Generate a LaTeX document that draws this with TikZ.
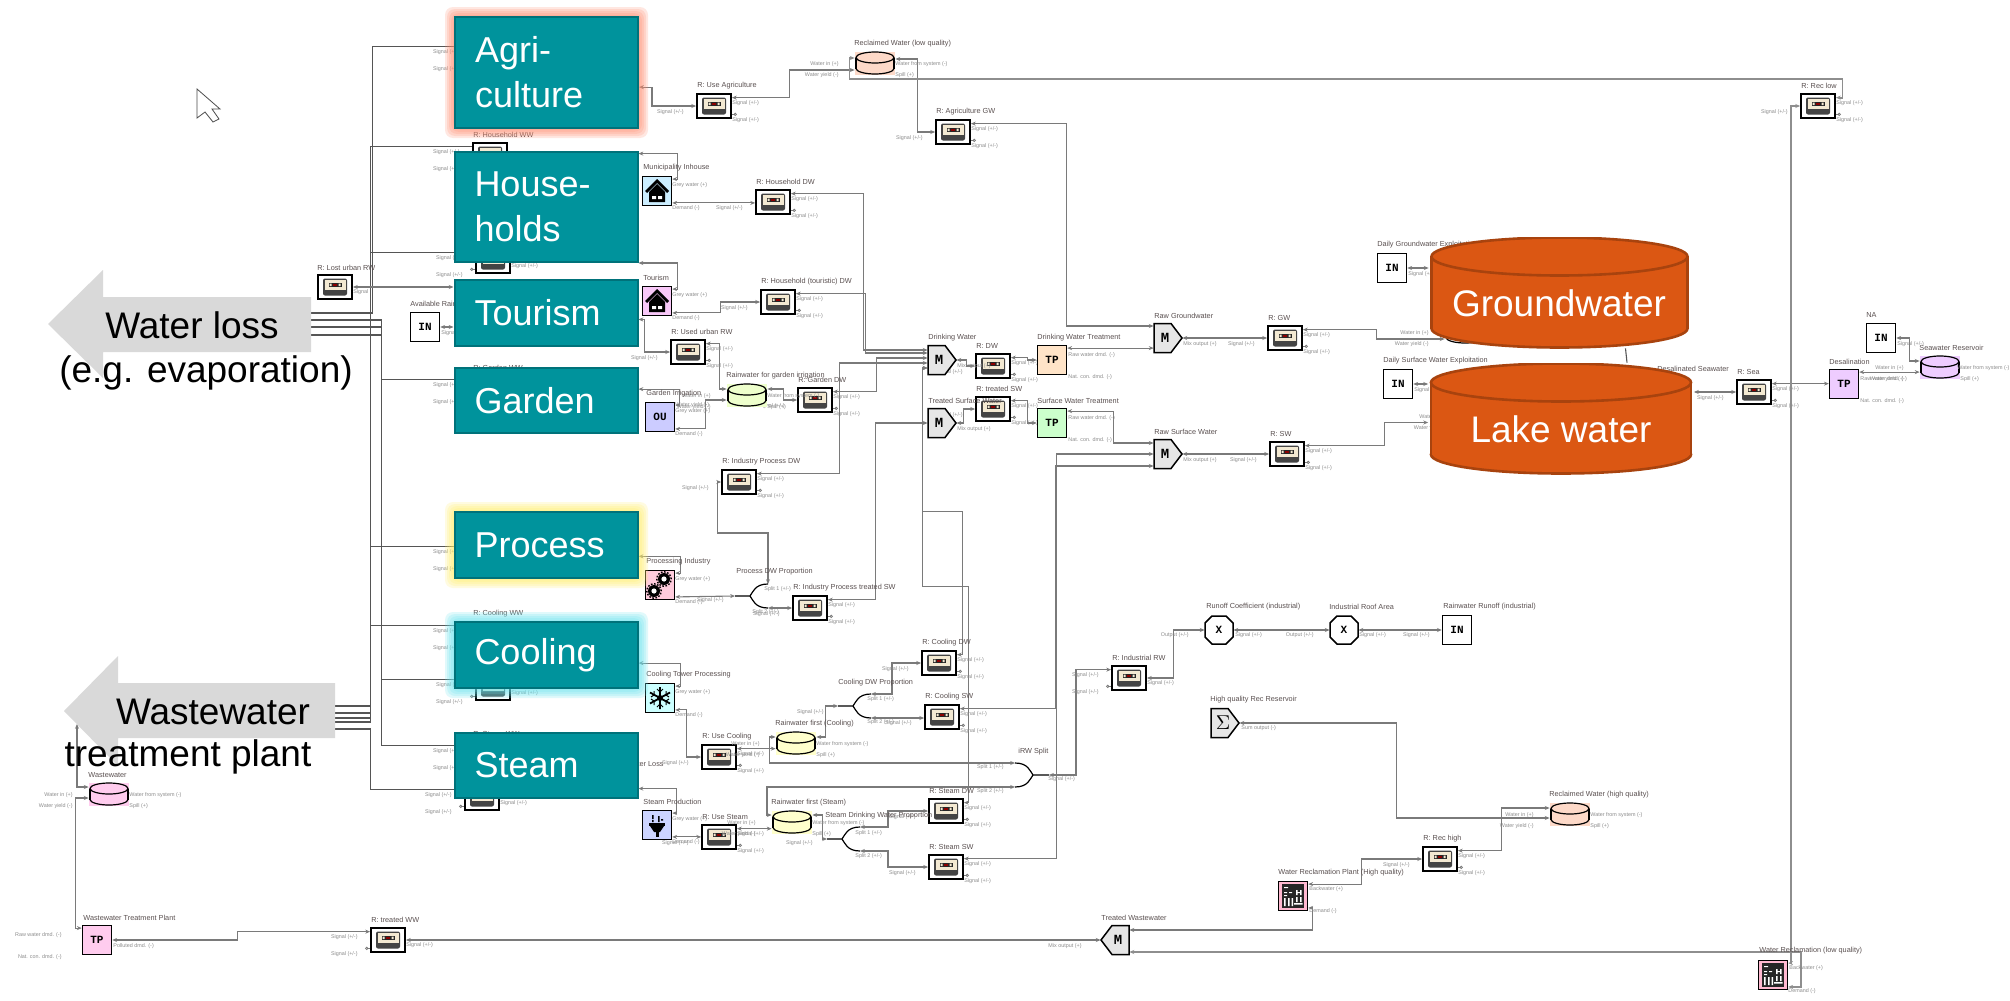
\documentclass[tikz,border=0pt]{standalone}
\usepackage{fontspec}
\setmainfont{Liberation Sans}
\newfontfamily\monob{Liberation Mono}[BoldFont={Liberation Mono Bold}]
\usetikzlibrary{arrows.meta,calc}
\definecolor{wgray}{HTML}{7A7A7A}
\definecolor{wdark}{HTML}{555555}
\definecolor{tealc}{HTML}{00939C}
\definecolor{teald}{HTML}{00727A}
\definecolor{orgc}{HTML}{DB5713}
\definecolor{orgd}{HTML}{A8430E}
\definecolor{arrg}{HTML}{D9D9D9}
\definecolor{ttlc}{HTML}{5A5050}
\definecolor{sgc}{HTML}{8C8C8C}
\definecolor{beige}{HTML}{F3E9D2}
\definecolor{recd}{HTML}{444444}
\definecolor{mixg}{HTML}{E6E6E6}
\definecolor{cpeach}{HTML}{FDD9C8}
\definecolor{cgreen}{HTML}{EEFFCC}
\definecolor{cyell}{HTML}{FFFFCC}
\definecolor{cpink}{HTML}{FFCCEE}
\definecolor{clil}{HTML}{EECCFF}
\definecolor{iblue}{HTML}{CCEEFF}
\definecolor{ipink}{HTML}{F8C8F8}
\definecolor{iou}{HTML}{CCCCFF}
\definecolor{igear}{HTML}{FFCCDD}
\definecolor{iice}{HTML}{CCFFFF}
\definecolor{iplug}{HTML}{CCD4FF}
\definecolor{tporg}{HTML}{FFE4C8}
\definecolor{tpgrn}{HTML}{CCFFCC}
\definecolor{irec}{HTML}{FFB8D0}
\definecolor{glowa}{HTML}{FF8A6C}
\definecolor{glowp}{HTML}{FFEE66}
\definecolor{glowc}{HTML}{66E4EE}
\pgfdeclarelayer{wires}
\pgfsetlayers{wires,main}
\tikzset{
  wire/.style={draw=wgray,line width=.55pt,arrows={Stealth[length=2.4pt,width=2pt]-Stealth[length=2.4pt,width=2pt]}},
  wiret/.style={wire,line width=.85pt,draw=wgray!85},
  bus/.style={draw=wdark,line width=.55pt},
  stub/.style={draw=wgray,line width=.4pt,-{Circle[open,length=1.6pt,width=1.6pt]}},
  splt/.style={draw=black,line width=.6pt},
  ttl/.style={anchor=west,inner sep=0,text=ttlc,font=\fontsize{3.65}{4}\selectfont},
  sg/.style={anchor=west,inner sep=0,text=sgc,font=\fontsize{2.7}{3}\selectfont},
  sgr/.style={sg,anchor=east},
  tbox/.style={rectangle,fill=tealc,draw=teald,line width=1pt,inner xsep=10pt,inner ysep=0,text width=71.5pt,align=left,text=white,font=\fontsize{18}{22.5}\selectfont},
  bigt/.style={inner sep=0,text=white,font=\fontsize{18.5}{22}\selectfont},
  arrt/.style={inner sep=0,text=black,font=\fontsize{18.5}{22}\selectfont},
  blk/.style={rectangle,draw=black,line width=.75pt,minimum width=14.5pt,minimum height=14.5pt,inner sep=0,font=\monob\bfseries\fontsize{5.5}{6}\selectfont},
  recn/.style={rectangle,draw=black,line width=.9pt,fill=white,minimum width=17pt,minimum height=12pt,inner sep=0,
    path picture={\begin{scope}[shift={(path picture bounding box.center)}]
      \fill[recd,rounded corners=1pt] (-12,-8.5) rectangle (12,8.5);
      \fill[beige] (-10.5,-7) rectangle (10.5,2.5);
      \fill[black!85] (-6.5,-4.5) rectangle (6.5,0);
      \fill[red!55!black] (-2,-3.5) rectangle (2,-1);
      \fill[beige] (-5.5,-3.5) rectangle (-3.5,-1) (3.5,-3.5) rectangle (5.5,-1);
    \end{scope}}},
  cylpic/.style n args={5}{path picture={\begin{scope}[shift={(path picture bounding box.center)}]
      \path[fill=#4,draw=#5,line width=.6pt] (0,#2-#3) ellipse [x radius=#1*0.5pt,y radius=#3*0.5pt];
      \fill[#4] (-#1,-#2+#3) rectangle (#1,#2-#3);
      \draw[#5,line width=.6pt] (-#1,-#2+#3) -- (-#1,#2-#3) (#1,-#2+#3) -- (#1,#2-#3);
      \path[fill=#4,draw=#5,line width=.6pt] (0,-#2+#3) ellipse [x radius=#1*0.5pt,y radius=#3*0.5pt];
    \end{scope}}},
  scyl/.style={rectangle,inner sep=0,minimum width=20pt,minimum height=11.5pt,fill=#1,cylpic={19}{11}{5.5}{#1}{black}},
  bcylg/.style={rectangle,inner sep=0,minimum width=130.5pt,minimum height=55.5pt,
    path picture={\begin{scope}[shift={(path picture bounding box.center)}]
      \path[fill=orgc,draw=orgd,line width=1.3pt] (0,36) ellipse [x radius=64pt,y radius=9.5pt];
      \fill[orgc] (-128,-36) rectangle (128,36);
      \draw[orgd,line width=1.3pt] (-128,-36) -- (-128,36) (128,-36) -- (128,36);
      \path[fill=orgc,draw=orgd,line width=1.3pt] (0,-36) ellipse [x radius=64pt,y radius=9.5pt];
    \end{scope}}},
  bcyll/.style={rectangle,inner sep=0,minimum width=132.5pt,minimum height=55.5pt,
    path picture={\begin{scope}[shift={(path picture bounding box.center)}]
      \path[fill=orgc,draw=orgd,line width=1.3pt] (0,36) ellipse [x radius=65pt,y radius=9.5pt];
      \fill[orgc] (-130,-36) rectangle (130,36);
      \draw[orgd,line width=1.3pt] (-130,-36) -- (-130,36) (130,-36) -- (130,36);
      \path[fill=orgc,draw=orgd,line width=1.3pt] (0,-36) ellipse [x radius=65pt,y radius=9.5pt];
    \end{scope}}},
  mixn/.style={rectangle,inner sep=0,minimum width=14pt,minimum height=14.5pt,font=\monob\bfseries\fontsize{7}{8}\selectfont},
  outl/.style={fill=mixg,draw=black,line width=.75pt,line join=miter},
  octn/.style={rectangle,inner sep=0,minimum width=14pt,minimum height=14.5pt,font=\monob\bfseries\fontsize{5.5}{6}\selectfont},
  houseic/.style={blk,path picture={\begin{scope}[shift={(path picture bounding box.center)}]
      \fill[black] (0,-12) -- (12,0) -- (10,2) -- (0,-8) -- (-10,2) -- (-12,0) -- cycle;
      \fill[black] (-8,1) -- (0,-7) -- (8,1) -- (8,11) -- (-8,11) -- cycle;
      \fill[white] (-5,5) rectangle (-1,8) (1,5) rectangle (5,8);
    \end{scope}}},
  gearic/.style={blk,path picture={\begin{scope}[shift={(path picture bounding box.center)}]
      \fill[black] (4,-6) circle[radius=3pt] (-6,6) circle[radius=3pt];
      \draw[black,line width=.7pt,dash pattern=on .8pt off .8pt] (4,-6) circle[radius=3.6pt] (-6,6) circle[radius=3.6pt];
      \fill[white] (4,-6) circle[radius=1.3pt] (-6,6) circle[radius=1.3pt];
    \end{scope}}},
  snowic/.style={blk,path picture={\begin{scope}[shift={(path picture bounding box.center)}]
      \draw[black,line width=.9pt] (0,-11) -- (0,11) (-10,-5.5) -- (10,5.5) (-10,5.5) -- (10,-5.5);
      \draw[black,line width=.5pt] (-3,-9) -- (0,-6) -- (3,-9) (-3,9) -- (0,6) -- (3,9) (-9,-1) -- (-6,-3) -- (-6,-7) (9,1) -- (6,3) -- (6,7) (-9,1) -- (-6,3) -- (-6,7) (9,-1) -- (6,-3) -- (6,-7);
      \fill[black] (0,0) circle[radius=1.5pt];
    \end{scope}}},
  plugic/.style={blk,path picture={\begin{scope}[shift={(path picture bounding box.center)}]
      \fill[black] (-8,-2) rectangle (8,1);
      \fill[black] (-7,1) -- (7,1) -- (3,7) -- (-3,7) -- cycle;
      \fill[black] (-1.5,7) rectangle (1.5,12);
      \fill[black] (-5,-10) rectangle (-3.5,-6) (-5,-5) rectangle (-3.5,-3) (1,-9) rectangle (2.5,-3) (4,-6) rectangle (6,-4.5);
    \end{scope}}},
  recic/.style={blk,fill=irec,path picture={\begin{scope}[shift={(path picture bounding box.center)}]
      \fill[black!85] (-11,-12) rectangle (11,12);
      \fill[white] (-9,-9) rectangle (-5,-8) (-9,-4) rectangle (-6,-3) (-4,-4) rectangle (-1,-3) (-9,-1) rectangle (-6,0) (-9,2) rectangle (-7.5,10) (-5,2) rectangle (-3.5,10) (-1.5,2) rectangle (0,10) (3,-6) rectangle (4.5,-1) (7,-6) rectangle (8.5,-1) (3,-4) rectangle (8.5,-3) (3,1) rectangle (4.5,6) (7,1) rectangle (8.5,6) (1,7) rectangle (9.5,8.5);
    \end{scope}}}
}
\newcount\labn
\newcommand\Lab[4][sg]{\global\advance\labn by 1 \node[#1] (lab\the\labn) at (#2,#3) {#4};}
\newcommand\sgtxt{Signal (+/-)}
\newcommand\Rec[4]{\node[recn] (#1) at (#2,#3) {};
  \Lab[ttl]{#2-17}{#3-20}{#4}
  \Lab{#2+18}{#3-3}{\sgtxt}
  \Lab{#2+18}{#3+14}{\sgtxt}
  \Lab[sgr]{#2-30}{#3+6}{\sgtxt}
  \draw[stub] (#1.-25) -- ++(5,0);}
\newcommand\RecH[3]{\node[recn] (#1) at (#2,#3) {};
  \Lab[sgr]{#2-30}{#3-3}{\sgtxt}
  \Lab[sgr]{#2-30}{#3+14}{\sgtxt}
  \Lab{#2+18}{#3+5}{\sgtxt}
  \draw[stub] (#1.205) -- ++(-5,0);}
\newcommand\RecF[4]{\RecH{#1}{#2}{#3}
  \Lab[ttl]{#2-17}{#3-20}{#4}}
\newcommand\CylN[4]{\node[scyl=#4] (#1) at (#2,#3) {};
  \Lab[sgr]{#2-36}{#3+1}{Water in (+)}
  \Lab[sgr]{#2-36}{#3+12}{Water yield (-)}}
\newcommand\Cyl[5]{\CylN{#1}{#2}{#3}{#4}
  \Lab[ttl]{#2-21}{#3-19}{#5}
  \Lab{#2+20}{#3+1}{Water from system (-)}
  \Lab{#2+20}{#3+12}{Spill (+)}}
\newcommand\Tp[5]{\node[blk,fill=#4] (#1) at (#2,#3) {TP};
  \Lab[ttl]{#2-15}{#3-22}{#5}
  \Lab{#2+16}{#3-5}{Raw water dmd. (-)}
  \Lab{#2+16}{#3+17}{Nat. con. dmd. (-)}}
\newcommand\Inp[4]{\node[blk,fill=white] (#1) at (#2,#3) {IN};
  \Lab[ttl]{#2-15}{#3-23}{#4}
  \Lab{#2+16}{#3+6}{\sgtxt}}
\newcommand\Ico[6]{\node[#4] (#1) at (#2,#3) {#6};
  \Lab[ttl]{#2-14}{#3-23}{#5}
  \Lab{#2+15}{#3-6}{Grey water (+)}
  \Lab{#2+15}{#3+17}{Demand (-)}}
\newcommand\PentR[2]{\path[outl,shift={(#1,#2)}] (-14,-14.5) -- (3,-14.5) -- (14,0) -- (3,14.5) -- (-14,14.5) -- cycle;}
\newcommand\PentL[2]{\path[outl,shift={(#1,#2)}] (14,-14.5) -- (-3,-14.5) -- (-14,0) -- (-3,14.5) -- (14,14.5) -- cycle;}
\newcommand\Octo[2]{\path[outl,fill=white,shift={(#1,#2)}] (-7,-14) -- (7,-14) -- (14,-7) -- (14,7) -- (7,14) -- (-7,14) -- (-14,7) -- (-14,-7) -- cycle;}
\newcommand\Mix[4]{\PentR{#2}{#3}
  \node[mixn] (#1) at (#2,#3) {M\kern3pt};
  \Lab[ttl]{#2-14}{#3-22}{#4}
  \Lab{#2+15}{#3+6}{Mix output (+)}}
\newcommand\Split[3]{\coordinate (#1) at (#2-15,#3);
  \coordinate (#1J) at (#2,#3);
  \coordinate (#1U) at (#2+18,#3-12);
  \coordinate (#1L) at (#2+18,#3+12);
  \draw[splt] (#1) -- (#1J) .. controls (#2+3,#3-4) and (#2+5,#3-12) .. (#1U);
  \draw[splt] (#1J) .. controls (#2+3,#3+4) and (#2+5,#3+12) .. (#1L);}
\newcommand\SplitF[3]{\coordinate (#1) at (#2+16,#3);
  \coordinate (#1J) at (#2,#3);
  \coordinate (#1U) at (#2-18,#3-12);
  \coordinate (#1L) at (#2-18,#3+12);
  \draw[splt] (#1) -- (#1J) .. controls (#2-3,#3-4) and (#2-5,#3-12) .. (#1U);
  \draw[splt] (#1J) .. controls (#2-3,#3+4) and (#2-5,#3+12) .. (#1L);}
\newcommand\Glow[5]{\foreach \r in {2,4,6,8,10}{\fill[#1,opacity=.2,rounded corners=4pt] (#2-\r,#3-\r) rectangle (#4+\r,#5+\r);}}
\begin{document}
\begin{tikzpicture}[x=0.5pt,y=-0.5pt]
\useasboundingbox (0,0) rectangle (2010,1001);
\begin{pgfonlayer}{wires}
\fill[white] (0,0) rectangle (2010,1001);
\end{pgfonlayer}
% cursor
\draw[fill=white,draw=black!70,line width=.4pt] (197,89) -- (197,118) -- (205,112) -- (213,122) -- (219,119) -- (212,109) -- (220,109) -- cycle;

% recorders
\Rec{ruseag}{714}{106}{R: Use Agriculture}
\Rec{rag}{953}{132}{R: Agriculture GW}
\Rec{rhdw}{773}{202}{R: Household DW}
\Rec{rhtdw}{778}{302}{R: Household (touristic) DW}
\Rec{urw}{688}{352}{R: Used urban RW}
\Rec{rgdw}{815}{400}{R: Garden DW}
\Rec{rid}{739}{482}{R: Industry Process DW}
\Rec{rips}{810}{608}{R: Industry Process treated SW}
\Rec{rdw}{993}{366}{R: DW}
\Rec{rts}{993}{409}{R: treated SW}
\Rec{rgw}{1285}{338}{R: GW}
\Rec{rsw}{1287}{454}{R: SW}
\Rec{rrl}{1818}{106}{R: Rec low}
\Rec{rsea}{1754}{392}{R: Sea}
\Rec{rcdw}{939}{663}{R: Cooling DW}
\Rec{rcsw}{942}{717}{R: Cooling SW}
\Rec{ruc}{719}{757}{R: Use Cooling}
\Rec{rus}{719}{837}{R: Use Steam}
\Rec{rsdw}{946}{811}{R: Steam DW}
\Rec{rssw}{946}{867}{R: Steam SW}
\Rec{rrh}{1440}{859}{R: Rec high}
\RecF{rir}{1129}{678}{R: Industrial RW}
\RecF{rtrw}{388}{940}{R: treated WW}
% recorders mostly behind the teal boxes
\RecH{ragww}{490}{55}
\RecF{rhhww}{490}{155}{R: Household WW}
\RecH{rtww}{493}{261}
\RecF{rgww}{490}{388}{R: Garden WW}
\RecH{rpww}{490}{555}
\RecF{rcww}{490}{634}{R: Cooling WW}
\RecH{rclww}{493}{688}
\RecF{rsww}{490}{754}{R: Steam WW}
\RecH{rslw}{482}{798}
\node[recn] (rlost) at (335,287) {};
\Lab[ttl]{317}{268}{R: Lost urban RW}
\Lab{353}{292}{Signal}
% reservoirs
\Cyl{rlq}{875}{63}{cpeach}{Reclaimed Water (low quality)}
\Cyl{rwg}{747}{395}{cgreen}{Rainwater for garden irrigation}
\Cyl{rfc}{796}{743}{cyell}{Rainwater first (Cooling)}
\Cyl{rfs}{792}{822}{cyell}{Rainwater first (Steam)}
\Cyl{rhq}{1570}{814}{cpeach}{Reclaimed Water (high quality)}
\CylN{swr}{1940}{367}{clil}
\Lab[ttl]{1919}{348}{Seawater Reservoir}
\Lab{1957}{368}{Water from system (-)}
\Lab{1960}{379}{Spill (+)}
\Cyl{wwc}{109}{794}{cpink}{Wastewater}
\CylN{hgw}{1465}{332}{white}
\CylN{hlk}{1484}{416}{white}
% treatment plants
\Tp{dwt}{1052}{360}{tporg}{Drinking Water Treatment}
\Tp{swt}{1052}{423}{tpgrn}{Surface Water Treatment}
\Tp{des}{1844}{384}{clil}{Desalination}
\node[blk,fill=cpink] (wtp) at (97,940) {TP};
\Lab[ttl]{83}{918}{Wastewater Treatment Plant}
\Lab[sgr]{62}{935}{Raw water dmd. (-)}
\Lab[sgr]{62}{957}{Nat. con. dmd. (-)}
\Lab{113}{946}{Polluted dmd. (-)}
% inputs
\Inp{avail}{425}{327}{Available Rainwater}
\Inp{dgw}{1392}{268}{Daily Groundwater Exploitation}
\Inp{dsw}{1398}{384}{Daily Surface Water Exploitation}
\Inp{na}{1881}{338}{NA}
\node[blk,fill=white] (rro) at (1457,630) {IN};
\Lab[ttl]{1443}{607}{Rainwater Runoff (industrial)}
\Lab[sgr]{1430}{635}{\sgtxt}
% consumers
\Ico{muni}{657}{191}{houseic,fill=iblue}{Municipality Inhouse}{}
\Ico{tour}{657}{301}{houseic,fill=ipink}{Tourism}{}
\Ico{gard}{660}{417}{blk,fill=iou}{Garden Irrigation}{OU}
\Ico{proc}{660}{585}{gearic,fill=igear}{Processing Industry}{}
\Ico{cooli}{660}{698}{snowic,fill=iice}{Cooling Tower Processing}{}
\Ico{stm}{657}{825}{plugic,fill=iplug}{Steam Production}{}
\Lab{675}{405}{Water yield (-)}
% mixers
\Mix{dw}{942}{360}{Drinking Water}
\Mix{tsm}{942}{423}{Treated Surface Water}
\Mix{rgm}{1168}{338}{Raw Groundwater}
\Mix{rsm}{1168}{454}{Raw Surface Water}
\PentL{1115}{940}
\node[mixn] (tww) at (1115,940) {\kern3pt M};
\Lab[ttl]{1101}{918}{Treated Wastewater}
\Lab[sgr]{1082}{946}{Mix output (+)}
\PentR{1225}{723}
\node[mixn,font=\fontsize{10}{11}\selectfont] (hq) at (1225,723) {$\Sigma$\kern2pt};
\Lab[ttl]{1210}{700}{High quality Rec Reservoir}
\Lab{1241}{728}{Sum output (-)}
% multipliers
\Octo{1219}{630}
\node[octn] (oc1) at (1219,630) {X};
\Lab[ttl]{1206}{607}{Runoff Coefficient (industrial)}
\Lab[sgr]{1189}{635}{Output (+/-)}
\Lab{1235}{635}{\sgtxt}
\Octo{1344}{630}
\node[octn] (oc2) at (1344,630) {X};
\Lab[ttl]{1329}{607}{Industrial Roof Area}
\Lab[sgr]{1314}{635}{Output (+/-)}
\Lab{1359}{635}{\sgtxt}
% reclamation plants
\node[recic] (wrh) at (1293,896) {};
\Lab[ttl]{1278}{873}{Water Reclamation Plant (High quality)}
\Lab{1309}{889}{Backwater (+)}
\Lab{1309}{911}{Demand (-)}
\node[recic] (wrl) at (1773,975) {};
\Lab[ttl]{1759}{951}{Water Reclamation (low quality)}
\Lab{1789}{968}{Backwater (+)}
\Lab{1788}{991}{Demand (-)}
% splitters
\Split{pdw}{750}{596}
\Lab[ttl]{736}{572}{Process DW Proportion}
\Lab{764}{589}{Split 1 (+/-)}
\Lab{752}{612}{Split 2 (+/-)}
\Lab[sgr]{724}{600}{\sgtxt}
\Split{cdp}{853}{706}
\Lab[ttl]{838}{683}{Cooling DW Proportion}
\Lab{867}{699}{Split 1 (+/-)}
\Lab{867}{722}{Split 2 (+/-)}
\Lab[sgr]{824}{712}{\sgtxt}
\Split{sdp}{842}{839}
\Lab[ttl]{825}{816}{Steam Drinking Water Proportion}
\Lab{855}{833}{Split 1 (+/-)}
\Lab{855}{856}{Split 2 (+/-)}
\Lab[sgr]{813}{843}{\sgtxt}
\SplitF{irw}{1033}{775}
\Lab[ttl]{1018}{752}{iRW Split}
\Lab[sgr]{1004}{767}{Split 1 (+/-)}
\Lab[sgr]{1004}{791}{Split 2 (+/-)}
\Lab{1048}{779}{\sgtxt}
\Lab[ttl]{1657}{369}{Desalinated Seawater}
\node[ttl,anchor=east] (lab0) at (664,765) {Cooling Water Loss};

% glows and teal boxes
\Glow{glowa}{455}{17}{638}{128}
\Glow{glowp}{455}{512}{638}{578}
\Glow{glowc}{455}{622}{638}{688}
\node[tbox,minimum height=55.5pt] (agri) at (546.5,72.5) {Agri-\\culture};
\node[tbox,minimum height=55pt] (house) at (546,207) {House-\\holds};
\node[tbox,minimum height=33pt] (tourism) at (546,313) {Tourism};
\node[tbox,minimum height=32.5pt] (garden) at (546,400.5) {Garden};
\node[tbox,minimum height=33pt] (process) at (546,545) {Process};
\node[tbox,minimum height=33pt] (cooling) at (546,655) {Cooling};
\node[tbox,minimum height=32.5pt] (steam) at (546,765.5) {Steam};

% big reservoirs
\node[bcylg] (gw) at (1559.5,292.5) {};
\node[bcyll] (lake) at (1561,418.5) {};
\node[bigt] (gwt) at (1559,303) {Groundwater};
\node[bigt] (lkt) at (1561,429) {Lake water};

% big grey arrows
\path[fill=arrg] (48,324) -- (103,270) -- (103,297) -- (311,297) -- (311,352) -- (103,352) -- (103,378) -- cycle;
\path[fill=arrg] (64,711) -- (118,656) -- (118,683) -- (335,683) -- (335,738) -- (118,738) -- (118,766) -- cycle;
\node[arrt] (wl) at (192,325) {Water loss};
\node[arrt] (wle) at (206,373) {(e.g. evaporation)};
\node[arrt] (wt) at (213,712) {Wastewater};
\node[arrt] (wtp2) at (188,757) {treatment plant};
\coordinate (wl1) at (311,313);
\coordinate (wl2) at (311,320);
\coordinate (wl3) at (311,327);
\coordinate (wl4) at (311,335);
\coordinate (ww1) at (335,706);
\coordinate (ww2) at (335,713);
\coordinate (ww3) at (335,718);
\coordinate (ww4) at (335,722);
\coordinate (ww5) at (335,729);
\coordinate (wwa) at (77,724);

\begin{pgfonlayer}{wires}
% buses to the grey arrows
\draw[bus] (ragww.155) -- ++(-100,0) |- (wl1);
\draw[bus] (rgww.155) -- ++(-91,0) |- (wl2);
\draw[bus] (rsww.155) -- ++(-91,0) |- (wl3);
\draw[bus] (rclww.155) -- ++(-94,0) |- (wl4);
\draw[bus] (rhhww.155) -- ++(-102,0) |- (ww1);
\draw[bus] (rtww.155) -- ++(-105,0) |- (ww2);
\draw[bus] (rpww.155) -- ++(-102,0) |- (ww3);
\draw[bus] (rcww.155) -- ++(-102,0) |- (ww4);
\draw[bus] (rslw.155) -- ++(-94,0) |- (ww5);
% teal boxes to blocks
\draw[wire] (agri.-9) -- ++(13,0) |- (ruseag.west);
\draw[wire] (house.30) -- ++(39,0) |- (muni.38);
\draw[wire] (house.south east) -- ++(39,0) |- (tour.38);
\draw[wire] (tourism.-4) -- ++(6,0) |- (urw.west);
\draw[wire] (garden.7) -- ++(41,0) |- (gard.38);
\draw[wire] (process.-7) -- ++(42,0) |- (proc.38);
\draw[wire] (cooling.-5) -- ++(42,0) |- (cooli.38);
\draw[wire] (steam.-14) -- ++(38,0) |- (stm.38);
\draw[wire] (tourism.west |- rlost.east) -- (rlost.east);
\draw[wire] (avail.east) -- (avail.east -| tourism.west);
% demands
\draw[wire] (muni.-38) -- (muni.-38 -| rhdw.west);
\draw[wire] (tour.-38) -- ++(48,0) |- (rhtdw.west);
\draw[wire] (urw.25) -- ++(14,0) |- ([yshift=3pt]rwg.west);
\draw[wire] (gard.-38) -- ++(30,0) |- ([yshift=-2.5pt]rwg.west);
\draw[wire] ([yshift=3pt]rwg.east) -- ++(16,0) |- (rgdw.west);
\draw[wire] (rid.west) -- ++(-4,0) -- ++(0,51) -| (pdwU);
\draw[wire] (proc.-38) -- (pdw);
\draw[wire] (pdwL) -- (pdwL -| rips.west);
% into drinking water mixer
\draw[wire] (rhdw.25) -- ++(72.5,0) |- ([yshift=5pt]dw.west);
\draw[wire] (rhtdw.25) -- ++(69.5,0) |- ([yshift=3.5pt]dw.west);
\draw[wire] (rgdw.25) -- ++(44,0) |- ([yshift=1pt]dw.west);
\draw[wire] (rid.25) -- ++(83,0) |- ([yshift=-1.5pt]dw.west);
\draw[wire] (rcdw.25) -- ++(5.6,0) -- ++(0,-143) -- ++(-39.6,0) |- ([yshift=-4pt]dw.west);
\draw[wire] (rsdw.25) -- ++(5,0) -- ++(0,-216) -- ++(-46,0) |- ([yshift=-4pt]dw.west);
\draw[wire] (dw.east) -- ++(10,0) |- (rdw.west);
\draw[wire] (rdw.25) -- ++(17,0) |- (dwt.west);
\draw[wire] (dwt.38) -- (dwt.38 -| rgm.west);
\draw[wire] (rag.25) -- ++(95.5,0) |- ([yshift=6pt]rgm.west);
\draw[wire] (rgm.east) -- (rgw.west);
\draw[wire] (rgw.25) -- ++(74,0) |- ([yshift=-3.5pt]hgw.west);
% surface water
\draw[wire] (rips.25) -- ++(48,0) |- (tsm.west);
\draw[wire] (tsm.east) -- ++(7,0) |- (rts.west);
\draw[wire] (rts.25) -- ++(17,0) |- (swt.west);
\draw[wire] (swt.38) -- ++(46,0) |- ([yshift=5.5pt]rsm.west);
\draw[wire] (rcsw.25) -- ++(96,0) |- ([yshift=-6pt]rsm.west);
\draw[wire] (rssw.25) -- ++(93,0) |- (rsm.west);
\draw[wire] (rsm.east) -- (rsw.west);
\draw[wire] (rsw.25) -- ++(80,0) |- ([yshift=-2pt]lake.west);
\draw[wire] (dgw.east) -- (dgw.east -| gw.west);
\draw[wire] (dsw.east) -- (dsw.east -| lake.west);
\draw[bus] ([xshift=33pt]gw.south) -- ([xshift=33pt]lake.north);
% sea
\draw[wire] (rsea.west -| lake.east) -- (rsea.west);
\draw[wire] (rsea.25) -- (rsea.25 -| des.west);
\draw[wire] (des.38) -- (des.38 -| swr.west);
\draw[wire] ([yshift=3pt]swr.west) -- ++(-10,0) |- (na.east);
% reclaimed low
\draw[wire] (ruseag.25) -- ++(58,0) |- ([yshift=-3.5pt]rlq.west);
\draw[wire] (rag.west) -- ++(-18,0) |- ([yshift=2pt]rlq.east);
\draw[wiret] ([yshift=2.5pt]rlq.west) -- ++(-5,0) -- ++(0,21) -- ++(993,0) |- (rrl.25);
\draw[wiret] (rrl.west) -- ++(-9,0) |- (wrl.38);
\draw[wiret] (wrl.-38) -- ++(12.5,0) |- ([yshift=-6pt]tww.east);
\draw[wire] (wrh.-38) -- ++(4.5,0) |- ([yshift=5pt]tww.east);
\draw[wire] (wrh.38) -- ++(53.6,0) |- (rrh.west);
\draw[wire] (rrh.25) -- ++(44,0) |- ([yshift=3pt]rhq.west);
\draw[wire] (hq.east) -- ++(157,0) |- ([yshift=-2pt]rhq.west);
% treated wastewater
\draw[wire] (tww.west) -- (rtrw.east);
\draw[wire] (rtrw.155) -- ++(-133,0) |- (wtp.east);
\draw[wire] (wtp.142) -- ++(-6,0) |- ([yshift=-2pt]wwc.west);
\draw[wire] (wwa) |- ([yshift=3.5pt]wwc.west);
% cooling
\draw[wire] (cooli.-38) -- ++(11,0) |- (ruc.west);
\draw[wire] (ruc.25) -- (ruc.25 -| rfc.west);
\draw[wire] ([yshift=3pt]rfc.west) -- ++(-6,0) |- (irwU);
\draw[wire] ([yshift=3pt]rfc.east) -- ++(9,0) |- (cdp);
\draw[wire] (cdpU) -- ++(21,0) |- (rcdw.west);
\draw[wire] (cdpL) -- (cdpL -| rcsw.west);
% steam
\draw[wire] (irw) -- ++(27,0) |- (rir.155);
\draw[wire] (irwL) -- ++(-248,0) |- ([yshift=3.5pt]rfs.west);
\draw[wire] (rus.25) -- (rus.25 -| rfs.west);
\draw[wire] (stm.-38) -- (stm.-38 -| rus.west);
\draw[wire] ([yshift=3.5pt]rfs.east) -- ++(10,0) |- (sdp);
\draw[wire] (sdpU) -- ++(28,0) |- (rsdw.west);
\draw[wire] (sdpL) -- ++(28,0) |- (rssw.west);
% industrial runoff
\draw[wire] (rir.east) -- ++(27,0) |- (oc1.west);
\draw[wire] (oc1.east) -- (oc2.west);
\draw[wire] (oc2.east) -- (rro.west);
\end{pgfonlayer}
\end{tikzpicture}
\end{document}
